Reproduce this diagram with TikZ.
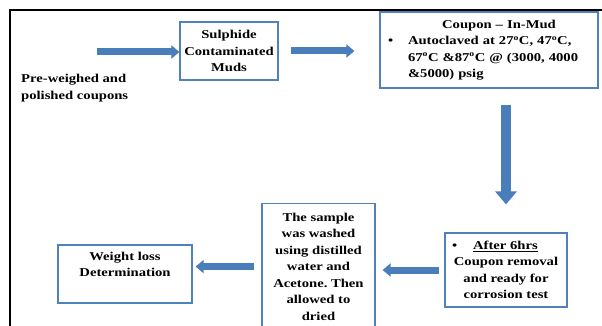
\documentclass[tikz,border=0pt]{standalone}
\usepackage{xcolor}
\usepackage{fontspec}
\setmainfont[FakeStretch=1.22]{Liberation Serif}
\usepackage{tikz}
\usetikzlibrary{arrows.meta}

\definecolor{boxblue}{RGB}{79,129,189}
\definecolor{arrowblue}{RGB}{74,126,187}
\frenchspacing

\begin{document}
\begin{tikzpicture}[x=1pt, y=1pt,
  every node/.style={font=\fontsize{12}{16.5}\selectfont\bfseries},
  stage/.style={draw=boxblue, line width=1.2pt, inner sep=0pt},
  flow/.style={draw=arrowblue, line width=7pt, -{Triangle[length=8pt, width=13pt]}},
  bigflow/.style={draw=arrowblue, line width=10pt, -{Triangle[length=13pt, width=21pt]}}]
  \useasboundingbox (0,0) rectangle (602,-326);
  \clip (0,0) rectangle (602,-326);
  \draw [line width=1.3pt] (10,-326) -- (10,-10) -- (602,-10);

  % top row
  \node [inner sep=0pt, align=left, anchor=west] (pre) at (21,-88) {Pre-weighed and\\polished coupons};
  \coordinate (start) at (97,-52);
  \node [stage, align=center, minimum width=98, minimum height=58] (mud) at (229,-51) {Sulphide\\Contaminated\\Muds};
  \node [stage, align=left, text width=202pt, inner xsep=8pt, minimum height=76] (coupon) at (489,-50)
    {\makebox[202pt]{\hspace{20pt}Coupon -- In-Mud}\\
     \makebox[20pt][l]{\textbullet}Autoclaved at 27\textsuperscript{o}C, 47\textsuperscript{o}C,\\
     \hspace*{20pt}67\textsuperscript{o}C \&87\textsuperscript{o}C @ (3000, 4000\\
     \hspace*{20pt}\&5000) psig};

  % bottom row
  \node [stage, align=center, minimum width=122, minimum height=74] (removal) at (506,-270)
    {\makebox[108pt][l]{\textbullet\hspace{16pt}\underline{After 6hrs}}\\Coupon removal\\and ready for\\corrosion test};
  \node [stage, align=center, minimum width=113, minimum height=126, anchor=north] (wash) at (318.5,-203)
    {The sample\\was washed\\using distilled\\water and\\Acetone. Then\\allowed to\\dried};
  \node [stage, minimum width=134, minimum height=58] (weight) at (125,-274)
    {\begin{tabular}{@{}c@{}}Weight loss\\Determination\\[18pt]\end{tabular}};

  \draw [flow] (start) -- (start -| mud.west);
  \draw [flow, shorten <=12pt, shorten >=25pt] (mud.east) -- (mud.east -| coupon.west);
  \draw [bigflow, shorten <=16pt, shorten >=28pt] (coupon.south -| removal) -- (removal.north);
  \draw [flow, shorten <=5pt, shorten >=7pt] (removal.west) -- (removal.west -| wash.east);
  \draw [flow, shorten <=7pt, shorten >=3pt] (wash.west) -- (wash.west -| weight.east);
\end{tikzpicture}
\end{document}
